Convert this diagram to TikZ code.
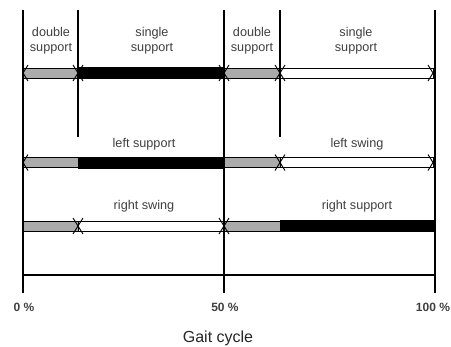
\documentclass[tikz,border=0pt]{standalone}
\usepackage{fontspec}
\setmainfont{Liberation Sans}
\begin{document}
\begin{tikzpicture}[x=0.75pt,y=-0.75pt,
  bar/.style={draw=black,line width=0.6pt},
  grayfill/.style={bar,fill=black!33},
  blackfill/.style={bar,fill=black},
  whitefill/.style={bar,fill=white},
  rule/.style={line width=1.6pt},
  tip/.style={line width=0.7pt},
  lbl/.style={font=\fontsize{9.5}{11.5}\selectfont,text=black!75,align=center,inner sep=0pt},
  pct/.style={font=\fontsize{9}{11}\selectfont\bfseries,text=black!75,inner sep=0pt},
]
\useasboundingbox (0,0) rectangle (451,347);

% right/left pointing barbs at a bar end
\newcommand{\tipR}[2]{\draw[tip] (#1-5,#2-8) -- (#1,#2) -- (#1-5,#2+8);}
\newcommand{\tipL}[2]{\draw[tip] (#1+5,#2-8) -- (#1,#2) -- (#1+5,#2+8);}

% phase bars: row 1 (support phases), row 2 (left leg), row 3 (right leg)
\def\ra{73}\def\rb{162.5}\def\rc{226}
\path[grayfill]  (23,\ra-5)  rectangle (78,\ra+5);
\path[blackfill] (78,\ra-5.5)  rectangle (224,\ra+5.5);
\path[grayfill]  (224,\ra-5) rectangle (280,\ra+5);
\path[whitefill] (280,\ra-5) rectangle (433,\ra+5);

\path[grayfill]  (23,\rb-5)  rectangle (78,\rb+5);
\path[blackfill] (78,\rb-5.5)  rectangle (224,\rb+5.5);
\path[grayfill]  (224,\rb-5) rectangle (280,\rb+5);
\path[whitefill] (280,\rb-5) rectangle (433,\rb+5);

\path[grayfill]  (23,\rc-5)  rectangle (78,\rc+5);
\path[whitefill] (78,\rc-5)  rectangle (224,\rc+5);
\path[grayfill]  (224,\rc-5) rectangle (280,\rc+5);
\path[blackfill] (280,\rc-5.5) rectangle (435,\rc+5.5);

% barbs
\tipL{23}{\ra}\tipR{78}{\ra}\tipL{78}{\ra}\tipR{224}{\ra}
\tipL{224}{\ra}\tipR{280}{\ra}\tipL{280}{\ra}\tipR{433}{\ra}
\tipL{23}{\rb}\tipR{280}{\rb}\tipL{280}{\rb}\tipR{433}{\rb}
\tipR{78}{\rc}\tipL{78}{\rc}\tipR{224}{\rc}\tipL{224}{\rc}

% phase boundaries
\coordinate (t0) at (23,10);    \coordinate (b0) at (23,293);
\coordinate (t1) at (78,10);    \coordinate (b1) at (78,137);
\coordinate (t2) at (224,10);   \coordinate (b2) at (224,293);
\coordinate (t3) at (280,10);   \coordinate (b3) at (280,137);
\coordinate (t4) at (435,10);   \coordinate (b4) at (435,293);
\draw[rule] (t0) -- (b0);
\draw[rule] (t1) -- (b1);
\draw[rule] (t2) -- (b2);
\draw[rule] (t3) -- (b3);
\draw[rule] (t4) -- (b4);

% time axis
\coordinate (a0) at (23,275); \coordinate (a1) at (435,275);
\draw[line width=0.8pt] (a0) -- (a1);

% labels
\node[lbl] (ds1) at (51,41)  {double\\support};
\node[lbl] (ss1) at (152,41) {single\\support};
\node[lbl] (ds2) at (252,41) {double\\support};
\node[lbl] (ss2) at (356,41) {single\\support};
\node[lbl] (ls)  at (144,144) {left support};
\node[lbl] (lw)  at (357,144) {left swing};
\node[lbl] (rw)  at (144,206) {right swing};
\node[lbl] (rs)  at (357,206) {right support};

\node[pct] (p0)   at (24,307)  {0 \%};
\node[pct] (p50)  at (225,307) {50 \%};
\node[pct] (p100) at (433,307) {100 \%};
\node[font=\fontsize{12}{14}\selectfont,text=black!85,inner sep=0pt] (gc) at (218,338) {Gait cycle};
\end{tikzpicture}
\end{document}
